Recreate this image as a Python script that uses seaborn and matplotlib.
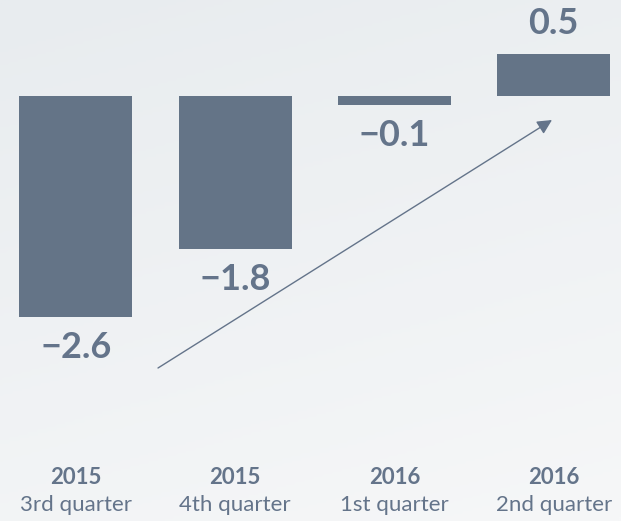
import numpy as np
import pandas as pd
import matplotlib
matplotlib.use('Agg')
import matplotlib.pyplot as plt
import matplotlib.transforms as mtrans
import seaborn as sns

years = ['2015', '2015', '2016', '2016']
quarters = ['3rd quarter', '4th quarter', '1st quarter', '2nd quarter']
values = [-2.6, -1.8, -0.1, 0.5]
value_labels = ['\u22122.6', '\u22121.8', '\u22120.1', '0.5']

bar_color = '#647487'
text_color = '#64748a'

sns.set_style('white')
plt.rcParams['font.family'] = ['Lato', 'DejaVu Sans']

df = pd.DataFrame({'period': [y + ' ' + q for y, q in zip(years, quarters)], 'value': values})

fig = plt.figure(figsize=(6.21, 5.21), dpi=100)
ax = fig.add_axes([0, 0, 1, 1])

# soft diagonal background gradient
gx, gy = np.meshgrid(np.linspace(0, 1, 200), np.linspace(0, 1, 200))
grad = 0.75 * gy + 0.25 * (1 - gx)
bg = matplotlib.colors.LinearSegmentedColormap.from_list('bg', ['#f6f7f8', '#e8ecef'])
ax.imshow(grad, cmap=bg, extent=[0, 1, 0, 1], transform=ax.transAxes,
          aspect='auto', zorder=0, origin='lower')

sns.barplot(data=df, x='period', y='value', color=bar_color, width=0.71,
            saturation=1, linewidth=0, edgecolor='none', ax=ax, zorder=2)

ax.set_xlim(-0.477, 3.423)
ax.set_ylim(-4.994, 1.135)
ax.axis('off')

# value labels
for i, (v, lab) in enumerate(zip(values, value_labels)):
    off = -14 if v < 0 else 14
    ax.annotate(lab, (i, v), xytext=(0, off * 0.72), textcoords='offset points',
                ha='center', va='top' if v < 0 else 'bottom',
                fontsize=26, fontweight='bold', color=text_color)

# category labels
trans = mtrans.blended_transform_factory(ax.transData, ax.transAxes)
for i, (y, q) in enumerate(zip(years, quarters)):
    ax.text(i, 1 - 477 / 521, y, transform=trans, ha='center', va='center',
            fontsize=16, fontweight='bold', color=text_color)
    ax.text(i, 1 - 505 / 521, q, transform=trans, ha='center', va='center',
            fontsize=16, color=text_color)

# trend arrow
ax.annotate('', xy=(552 / 621, 1 - 120 / 521), xytext=(158 / 621, 1 - 368 / 521),
            xycoords='axes fraction', textcoords='axes fraction',
            arrowprops=dict(arrowstyle='-|>', color=text_color, lw=1,
                            mutation_scale=22, shrinkA=0, shrinkB=0))

fig.savefig('out.png', dpi=100)
